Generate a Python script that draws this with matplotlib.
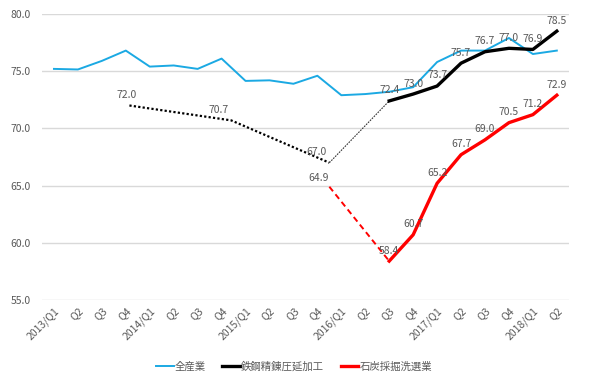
import matplotlib.pyplot as plt

plt.rcParams['font.family'] = ['Noto Sans CJK JP', 'DejaVu Sans']

# -----------------------------
# data
# -----------------------------
quarters = ['2013/Q1', 'Q2', 'Q3', 'Q4', '2014/Q1', 'Q2', 'Q3', 'Q4',
            '2015/Q1', 'Q2', 'Q3', 'Q4', '2016/Q1', 'Q2', 'Q3', 'Q4',
            '2017/Q1', 'Q2', 'Q3', 'Q4', '2018/Q1', 'Q2']

all_industry = [75.2, 75.15, 75.9, 76.8, 75.4, 75.5, 75.2, 76.1,
                74.15, 74.2, 73.9, 74.6, 72.9, 73.0, 73.2, 73.6,
                75.8, 76.8, 76.8, 77.9, 76.5, 76.8]

# quarterly from 2016/Q3
steel_pos = [14, 15, 16, 17, 18, 19, 20, 21]
steel_vals = [72.4, 73.0, 73.7, 75.7, 76.7, 77.0, 76.9, 78.5]
coal_pos = [14, 15, 16, 17, 18, 19, 20, 21]
coal_vals = [58.4, 60.7, 65.2, 67.7, 69.0, 70.5, 71.2, 72.9]

# earlier (yearly) points, dotted / dashed
steel_old_pos = [3.15, 7.4, 11.5]
steel_old_vals = [72.0, 70.7, 67.0]
coal_old_pos = [11.5]
coal_old_vals = [64.9]

# -----------------------------
# plot
# -----------------------------
fig = plt.figure(figsize=(6, 3.82), dpi=100)
ax = fig.add_axes([0.07, 0.2147, 0.878, 0.7487])

blue = '#1BA9E3'
grey = '#595959'

ax.plot(range(len(quarters)), all_industry, color=blue, lw=1.4, label='全産業', zorder=3)

ax.plot(steel_old_pos, steel_old_vals, color='black', lw=1.6, ls=(0, (1, 1)), zorder=3)
ax.plot([steel_old_pos[-1], steel_pos[0]], [steel_old_vals[-1], steel_vals[0]],
        color='#333333', lw=0.8, ls=(0, (1.5, 1)), zorder=3)
ax.plot(steel_pos, steel_vals, color='black', lw=2.4, label='鉄鋼精錬圧延加工', zorder=4)

ax.plot([coal_old_pos[-1], coal_pos[0]], [coal_old_vals[-1], coal_vals[0]],
        color='red', lw=1.4, ls=(0, (3, 2)), zorder=3)
ax.plot(coal_pos, coal_vals, color='red', lw=2.4, label='石炭採掘洗選業', zorder=4)

# data labels
def put_labels(xs, ys, dx=0):
    for x, y in zip(xs, ys):
        ax.annotate(f'{y:.1f}', (x, y), xytext=(dx, 4), textcoords='offset points',
                    ha='center', va='bottom', fontsize=7.5, color=grey, zorder=5)

put_labels(steel_pos, steel_vals)
put_labels(coal_pos, coal_vals)
put_labels(steel_old_pos[:1], steel_old_vals[:1], dx=-2)
put_labels(steel_old_pos[1:], steel_old_vals[1:], dx=-9)
ax.annotate(f'{coal_old_vals[0]:.1f}', (coal_old_pos[0], coal_old_vals[0]), xytext=(-8, 3),
            textcoords='offset points', ha='center', va='bottom', fontsize=7.5, color=grey)

ax.set_xlim(-0.5, len(quarters) - 0.5)
ax.set_ylim(55, 80)
ax.set_yticks([55, 60, 65, 70, 75, 80])
ax.set_yticklabels([f'{v:.1f}' for v in [55, 60, 65, 70, 75, 80]])
ax.set_xticks(range(len(quarters)))
ax.set_xticklabels(quarters, rotation=45, ha='right', rotation_mode='anchor')
ax.tick_params(length=0, labelsize=7.5, labelcolor=grey)
ax.tick_params(axis='x', pad=4)
ax.tick_params(axis='y', pad=8)
ax.grid(axis='y', color='#D9D9D9', lw=1)
ax.set_axisbelow(True)
for s in ax.spines.values():
    s.set_visible(False)

fig.legend(loc='center', bbox_to_anchor=(0.49, 0.04), ncol=3, frameon=False,
           fontsize=7.5, labelcolor=grey, handlelength=1.7, handletextpad=0.1,
           columnspacing=1.6)

plt.savefig('out.png', dpi=100)
plt.close()
